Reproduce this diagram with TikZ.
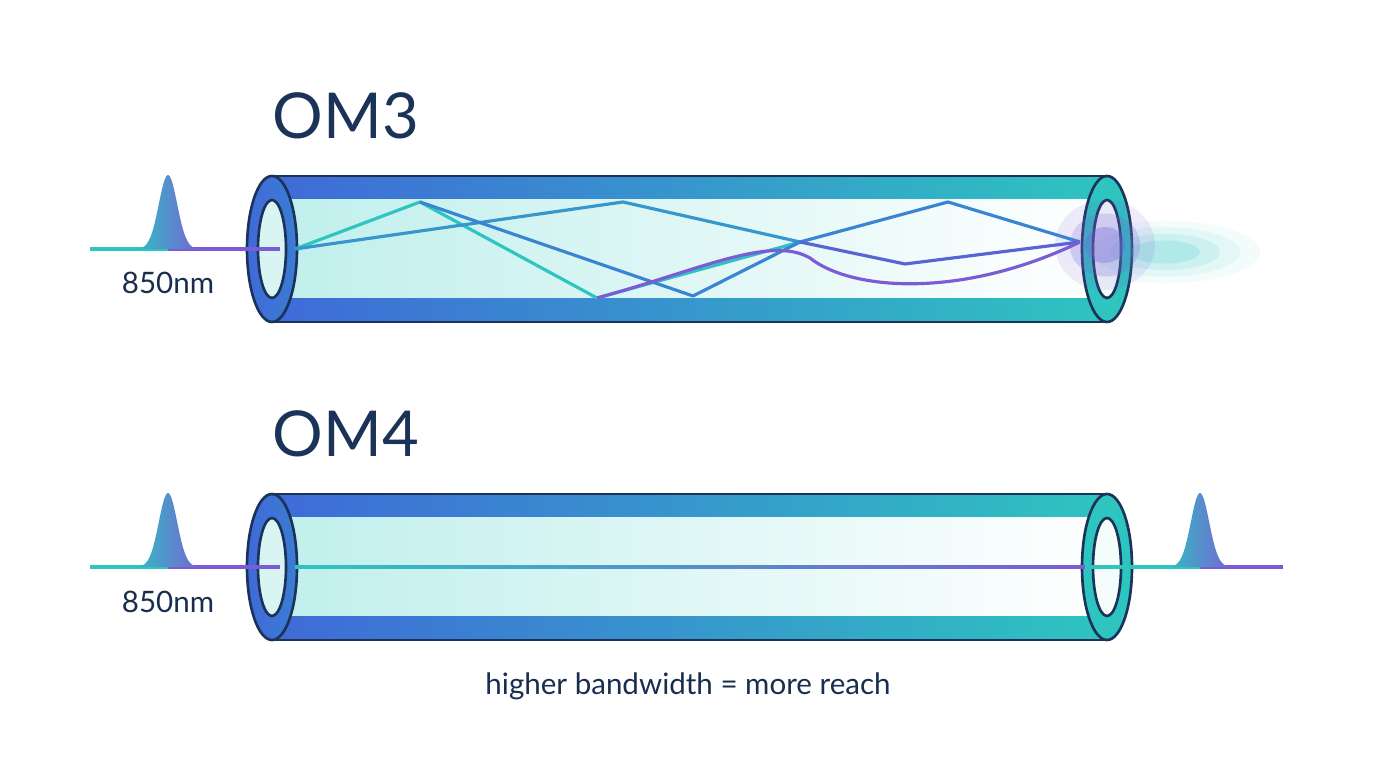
\documentclass[tikz,border=0pt]{standalone}
\usepackage{fontspec}
\setmainfont{Lato}
\definecolor{navy}{HTML}{1B3358}
\definecolor{fblue}{HTML}{3F6AD8}
\definecolor{fteal}{HTML}{2EC4C0}
\definecolor{fpurp}{HTML}{7B5CD6}
\definecolor{fcore}{HTML}{BFEFEC}
\tikzset{
  edge/.style={draw=navy,line width=0.75pt},
  ray/.style={line width=0.9pt,line join=round},
  title/.style={font=\fontsize{18}{20}\selectfont,text=navy,anchor=base west,inner sep=0pt},
  lab/.style={font=\fontsize{8.4}{9}\selectfont,text=navy!90!black},
}
% #1 = centre y of the tube
\newcommand\Fiber[1]{%
  \shade[left color=fblue,right color=fteal] (272,#1-73) rectangle (1107,#1+73);
  \shade[left color=fcore,right color=white] (272,#1-49) rectangle (1107,#1+49);
  \shade[left color=fblue,right color=fblue!80!fteal] (272,#1) ellipse [x radius=25,y radius=73];
  \fill[fcore!60!white] (272,#1) ellipse [x radius=14,y radius=49];
  \draw[edge] (272,#1) ellipse [x radius=25,y radius=73];
  \draw[edge] (272,#1) ellipse [x radius=14,y radius=49];
  \fill[fteal] (1107,#1) ellipse [x radius=25,y radius=73];
  \fill[white!85!fcore] (1107,#1) ellipse [x radius=14,y radius=49];
  \draw[edge] (1107,#1) ellipse [x radius=25,y radius=73];
  \draw[edge] (1107,#1) ellipse [x radius=14,y radius=49];
  \draw[edge] (272,#1-73) -- (1107,#1-73);
  \draw[edge] (272,#1+73) -- (1107,#1+73);
}
% #1 = peak x, #2 = baseline y, #3 #4 = line ends
\newcommand\Pulse[4]{%
  \draw[ray,fteal] (#3,#2) -- (#1,#2);
  \draw[ray,fpurp] (#1,#2) -- (#4,#2);
  \shade[left color=fteal,right color=fpurp]
    plot[domain=-38:38,samples=60,smooth] ({#1+\x},{#2-74*exp(-(\x/13)^2)}) -- cycle;
}
\begin{document}
\begin{tikzpicture}[x=0.01cm,y=-0.01cm]
  \useasboundingbox (0,0) rectangle (1376,768);
  % OM3
  \node[title] (om3) at (272,139) {OM3};
  \Fiber{249}
  \Pulse{168}{249}{90}{280}
  \node[lab] (nm3) at (168,283) {850nm};
  \foreach \r/\o in {95/0.06,75/0.08,55/0.12,35/0.18}
    \fill[fteal,opacity=\o] (1165,252) ellipse [x radius=\r,y radius=\r*0.33];
  \foreach \r/\o in {50/0.12,35/0.2,20/0.3}
    \fill[fpurp,opacity=\o] (1105,245) ellipse [x radius=\r,y radius=\r*0.9];
  \draw[ray,fteal] (295,249) -- (420,202) -- (597,298) -- (800,242);
  \draw[ray,fteal!50!fblue] (295,249) -- (623,202) -- (800,242);
  \draw[ray,fblue!70!fteal] (420,202) -- (693,296) -- (800,242) -- (948,202) -- (1080,242);
  \draw[ray,fblue!60!fpurp] (800,242) -- (905,264) -- (1080,242);
  \draw[ray,fpurp] (597,298) .. controls (700,270) and (770,235) .. (810,258)
     .. controls (850,290) and (960,300) .. (1080,242);
  % OM4
  \node[title] (om4) at (272,457) {OM4};
  \Fiber{567}
  \Pulse{168}{567}{90}{280}
  \node[lab] (nm4) at (168,602) {850nm};
  \shade[left color=fteal,right color=fpurp] (295,566) rectangle (1085,568.5);
  \Pulse{1200}{567}{1085}{1283}
  \node[lab] (note) at (688,686) {higher bandwidth = more reach};
\end{tikzpicture}
\end{document}
